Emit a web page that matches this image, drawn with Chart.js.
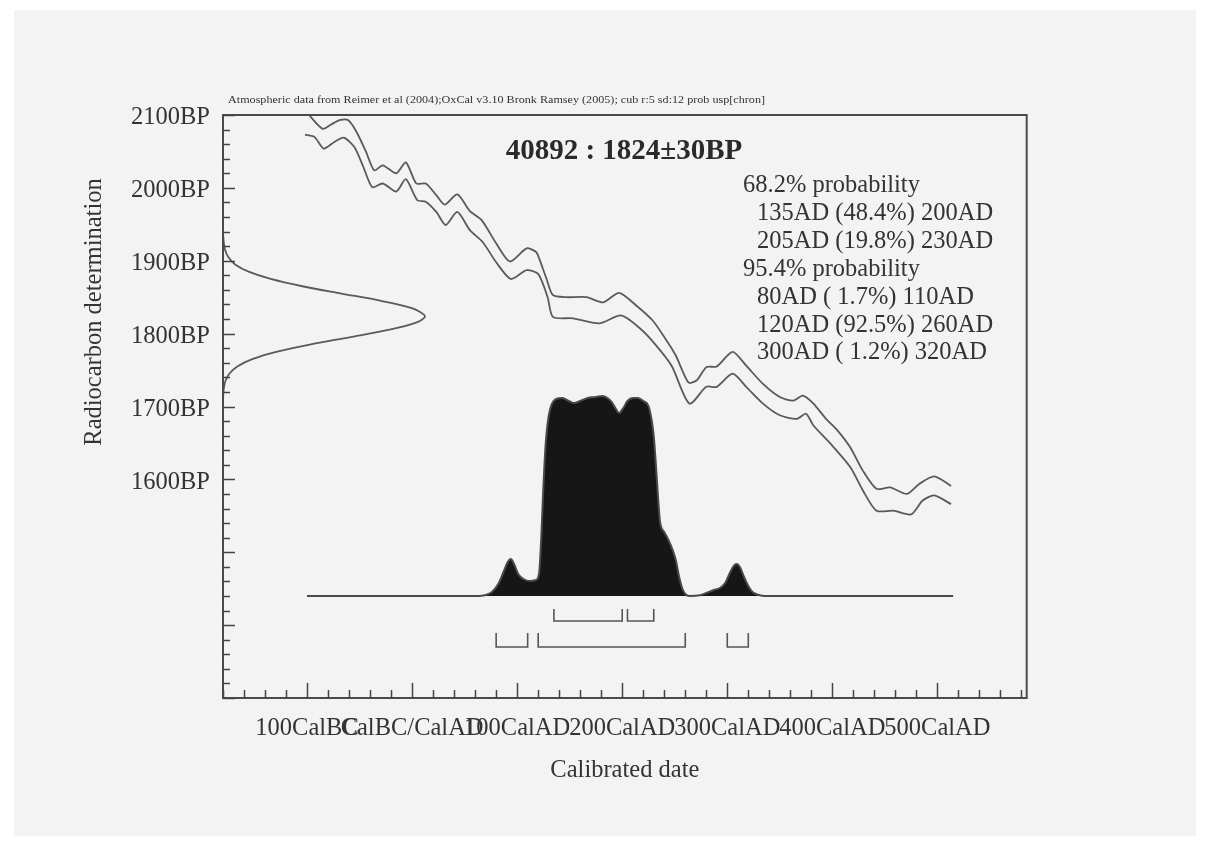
<!DOCTYPE html>
<html><head><meta charset="utf-8">
<script src="https://cdn.jsdelivr.net/npm/chart.js@4.4.0/dist/chart.umd.min.js"></script>
<style>
html,body{margin:0;padding:0;background:#ffffff;overflow:hidden;}
#wrap{position:absolute;left:0;top:0;width:1208px;height:845px;}
</style></head><body>
<div id="wrap"><canvas id="c" width="1208" height="845"></canvas></div>
<script>
// ---- data ----
const curveUpperYears = [-104,-98,-85,-77,-69,-61,-53,-44,-36,-28,-15,-6,4,13,23,31,43,55,66,80,93,109,118,121,128,134,147,166,182,197,213,229,242,251,263,271,280,290,305,318,334,350,363,372,382,394,405,417,429,442,455,471,483,497,513];
const curveUpperBP = [2112,2100,2081,2087,2093,2093,2077,2050,2024,2031,2020,2035,2006,2006,1990,1977,1991,1968,1956,1924,1899,1917,1912,1903,1875,1853,1850,1850,1843,1856,1839,1818,1791,1770,1733,1736,1754,1755,1775,1756,1731,1713,1708,1715,1704,1683,1667,1644,1612,1587,1589,1580,1594,1604,1591];
const curveLowerYears = [-102,-93,-84,-74,-65,-55,-47,-38,-28,-15,-6,5,13,23,32,43,55,67,80,94,109,120,129,134,153,178,199,217,231,247,264,280,290,305,318,334,350,366,375,382,397,417,429,442,458,475,486,497,513];
const curveLowerBP = [2073,2070,2054,2063,2069,2056,2031,2001,2006,1995,2012,1983,1981,1967,1949,1967,1942,1926,1898,1875,1887,1882,1850,1823,1821,1814,1825,1807,1786,1756,1704,1727,1727,1745,1727,1704,1688,1683,1690,1674,1651,1617,1585,1557,1557,1552,1571,1578,1566];
const gaussBP = [1935,1925,1915,1905,1895,1885,1875,1865,1855,1845,1835,1824,1815,1805,1795,1785,1775,1765,1755,1745,1735,1725,1715,1705];
const gaussDensity = [0.001,0.004,0.01,0.026,0.06,0.127,0.236,0.393,0.586,0.783,0.935,1.0,0.956,0.818,0.627,0.43,0.264,0.145,0.071,0.031,0.012,0.004,0.001,0];
const distYears = [-100,60,70,76,82,87,91,94,97,101,106,112,118,121,123,125,127,130,133,137,143,149,154,160,167,175,181,186,190,194,197,201,205,210,215,220,225,228,230,232,234,236,240,244,248,251,254,257,260,264,274,280,287,293,298,302,306,309,312,316,320,324,330,336,515];
const distProb = [0,0,0.005,0.02,0.06,0.12,0.17,0.185,0.16,0.11,0.085,0.075,0.08,0.12,0.3,0.55,0.75,0.9,0.96,0.985,0.99,0.975,0.965,0.975,0.99,0.995,1.0,0.99,0.97,0.935,0.915,0.94,0.975,0.99,0.99,0.975,0.95,0.88,0.8,0.66,0.5,0.37,0.32,0.28,0.23,0.18,0.1,0.04,0.01,0,0.004,0.015,0.03,0.04,0.065,0.11,0.15,0.16,0.145,0.095,0.05,0.02,0.005,0,0];
const ranges68 = [[135,200],[205,230]];
const ranges95 = [[80,110],[120,260],[300,320]];
const xLabelValues = [-100,0,100,200,300,400,500];
const xLabels = ['100CalBC','CalBC/CalAD','100CalAD','200CalAD','300CalAD','400CalAD','500CalAD'];
const yLabelValues = [1600,1700,1800,1900,2000,2100];
const yLabels = ['1600BP','1700BP','1800BP','1900BP','2000BP','2100BP'];
const headerNote = 'Atmospheric data from Reimer et al (2004);OxCal v3.10 Bronk Ramsey (2005); cub r:5 sd:12 prob usp[chron]';
const sampleTitle = '40892 : 1824\u00b130BP';
const probLines = ['68.2% probability','135AD (48.4%) 200AD','205AD (19.8%) 230AD','95.4% probability','80AD ( 1.7%) 110AD','120AD (92.5%) 260AD','300AD ( 1.2%) 320AD'];
const probIsHeader = [true,false,false,true,false,false,false];
const xAxisTitle = 'Calibrated date';
const yAxisTitle = 'Radiocarbon determination';

// ---- styling ----
const FONT = "'Liberation Serif','Times New Roman',serif";
const TXT = '#333333';
const LINE = '#5a5a5a';

const xTicks = []; for (let v = -180; v <= 580; v += 20) xTicks.push(v);
const yTicks = []; for (let v = 1300; v <= 2100; v += 20) yTicks.push(v);

function bracketSets(ranges, top, bot) {
  return ranges.map(r => ({
    data: [{x:r[0],y:top},{x:r[0],y:bot},{x:r[1],y:bot},{x:r[1],y:top}],
    xAxisID:'x', yAxisID:'y2', borderColor:'#555', borderWidth:1.6, pointRadius:0, tension:0, fill:false
  }));
}

const decor = {
  id:'decor',
  beforeDraw(chart){
    const c = chart.ctx;
    c.save();
    c.fillStyle = '#ffffff'; c.fillRect(0,0,1208,845);
    c.fillStyle = '#f3f3f3'; c.fillRect(14,10,1182,826);
    c.restore();
  },
  afterDraw(chart){
    const c = chart.ctx, a = chart.chartArea, sx = chart.scales.x, sy = chart.scales.y;
    c.save();
    c.strokeStyle = '#4a4a4a'; c.lineWidth = 2;
    c.strokeRect(a.left, a.top, a.right - a.left, a.bottom - a.top);
    c.lineWidth = 1.5; c.strokeStyle = '#444';
    c.beginPath();
    sy.ticks.forEach(t => {
      const p = Math.round(sy.getPixelForValue(t.value)) + 0.5;
      const len = (t.value % 100 === 0) ? 12 : 7;
      c.moveTo(a.left, p); c.lineTo(a.left + len, p);
    });
    sx.ticks.forEach(t => {
      const p = Math.round(sx.getPixelForValue(t.value)) + 0.5;
      const len = (t.value % 100 === 0) ? 15 : 8;
      c.moveTo(p, a.bottom); c.lineTo(p, a.bottom - len);
    });
    c.stroke();
    // header note
    c.fillStyle = TXT;
    c.font = '12px ' + FONT;
    c.textBaseline = 'alphabetic'; c.textAlign = 'left';
    const w = c.measureText(headerNote).width;
    c.save(); c.translate(228, 103); c.scale(537 / w, 0.85); c.fillText(headerNote, 0, 0); c.restore();
    // sample title
    c.font = 'bold 29px ' + FONT; c.textAlign = 'center'; c.fillStyle = '#2a2a2a';
    c.fillText(sampleTitle, 624, 159);
    // probability block
    c.font = '24.5px ' + FONT; c.textAlign = 'left'; c.fillStyle = TXT;
    probLines.forEach((s, i) => {
      c.fillText(s, probIsHeader[i] ? 743 : 757, 192 + i * 27.9);
    });
    // y axis title
    c.save(); c.translate(95, 312); c.rotate(-Math.PI / 2);
    c.textAlign = 'center'; c.textBaseline = 'middle'; c.font = '24.5px ' + FONT;
    c.fillText(yAxisTitle, 0, 0); c.restore();
    c.restore();
  }
};

const datasets = [
  {data: curveUpperYears.map((x,i)=>({x, y: curveUpperBP[i]})), xAxisID:'x', yAxisID:'y', borderColor:LINE, borderWidth:1.8, pointRadius:0, tension:0.25, fill:false},
  {data: curveLowerYears.map((x,i)=>({x, y: curveLowerBP[i]})), xAxisID:'x', yAxisID:'y', borderColor:LINE, borderWidth:1.8, pointRadius:0, tension:0.25, fill:false},
  {data: gaussBP.map((b,i)=>({x: gaussDensity[i], y: b})), xAxisID:'x2', yAxisID:'y', borderColor:LINE, borderWidth:1.8, pointRadius:0, tension:0.3, fill:false},
  {data: distYears.map((x,i)=>({x, y: distProb[i]})), xAxisID:'x', yAxisID:'y2', borderColor:'#4a4a4a', borderWidth:2, backgroundColor:'#161616', pointRadius:0, cubicInterpolationMode:'monotone', fill:'origin'},
  ...bracketSets(ranges68, -0.065, -0.125),
  ...bracketSets(ranges95, -0.185, -0.255)
];

new Chart(document.getElementById('c'), {
  type:'line',
  data:{datasets},
  plugins:[decor],
  options:{
    responsive:false, animation:false, devicePixelRatio:1,
    layout:{padding:{left:0, top:115, right:181.3, bottom:0}},
    plugins:{legend:{display:false}, tooltip:{enabled:false}},
    scales:{
      x:{type:'linear', min:-180, max:585,
        afterBuildTicks: s => { s.ticks = xTicks.map(v => ({value:v})); },
        afterFit: s => { s.height = 147; },
        ticks:{autoSkip:false, maxRotation:0, minRotation:0, padding:16, color:TXT, font:{family:FONT, size:24.5},
          callback: v => { const k = xLabelValues.indexOf(v); return k >= 0 ? xLabels[k] : ''; }},
        grid:{display:false, drawTicks:false}, border:{display:false},
        title:{display:true, text:xAxisTitle, color:TXT, font:{family:FONT, size:24.5}, padding:{top:0, bottom:60}}
      },
      y:{type:'linear', min:1300, max:2100,
        afterBuildTicks: s => { s.ticks = yTicks.map(v => ({value:v})); },
        afterFit: s => { s.width = 223; },
        ticks:{autoSkip:false, padding:13, labelOffset:3, color:TXT, font:{family:FONT, size:24.5},
          callback: v => { const k = yLabelValues.indexOf(v); return k >= 0 ? yLabels[k] : ''; }},
        grid:{display:false, drawTicks:false}, border:{display:false}
      },
      x2:{type:'linear', display:false, min:0, max:3.98},
      y2:{type:'linear', display:false, min:-0.51, max:2.405}
    }
  }
});
</script>
</body></html>
